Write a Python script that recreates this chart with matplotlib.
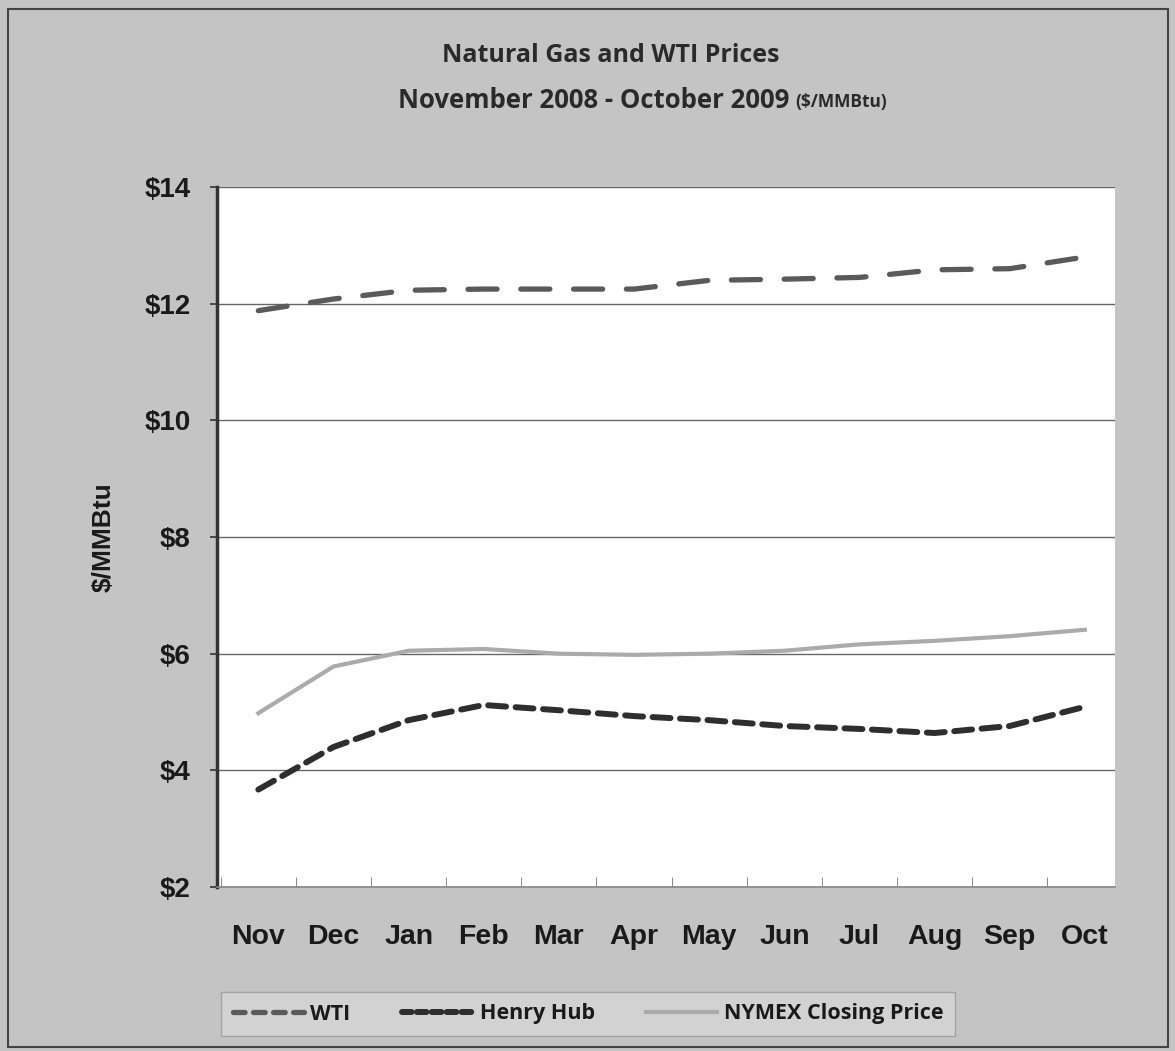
import matplotlib
matplotlib.use("Agg")
import matplotlib.pyplot as plt
from matplotlib.lines import Line2D
from matplotlib.patches import Rectangle

months = ["Nov", "Dec", "Jan", "Feb", "Mar", "Apr", "May", "Jun", "Jul", "Aug", "Sep", "Oct"]
wti = [11.88, 12.08, 12.23, 12.25, 12.25, 12.25, 12.40, 12.42, 12.45, 12.58, 12.60, 12.80]
henry_hub = [3.67, 4.40, 4.86, 5.12, 5.03, 4.93, 4.86, 4.76, 4.71, 4.64, 4.76, 5.09]
nymex = [4.98, 5.78, 6.05, 6.08, 6.00, 5.98, 6.00, 6.05, 6.16, 6.22, 6.30, 6.41]
yticks = [2, 4, 6, 8, 10, 12, 14]
ytick_labels = ["$2", "$4", "$6", "$8", "$10", "$12", "$14"]

W, H = 1175, 1051
fig = plt.figure(figsize=(W / 100, H / 100), dpi=100)
fig.patch.set_facecolor("#c4c4c4")

# outer frame
fig.add_artist(Rectangle((8 / W, 4 / H), (1168 - 8) / W, (1042 - 4) / H,
                         transform=fig.transFigure, fill=False,
                         edgecolor="#444444", linewidth=1.5))

ax = fig.add_axes([217 / W, 1 - 887 / H, (1115 - 217) / W, (887 - 187) / H])
ax.set_facecolor("white")

x = list(range(len(months)))
ax.plot(x, wti, color="#5a5a5a", linewidth=3.8, dashes=(5.5, 4.5),
        dash_capstyle="round", label="WTI", zorder=3)
ax.plot(x, henry_hub, color="#2e2e2e", linewidth=4.3, dashes=(3.0, 1.6),
        dash_capstyle="round", label="Henry Hub", zorder=3)
ax.plot(x, nymex, color="#ababab", linewidth=3.0, label="NYMEX Closing Price", zorder=3)

ax.set_ylim(2, 14)
ax.set_xlim(-0.55, 11.4)
ax.set_yticks(yticks)
ax.set_yticklabels(ytick_labels, fontfamily="Liberation Sans", fontweight="bold",
                   fontsize=20, color="#1a1a1a")
ax.yaxis.grid(True, color="#666666", linewidth=1.0)
ax.set_axisbelow(True)

ax.set_xticks(x)
ax.set_xticklabels(months, fontfamily="Liberation Sans", fontweight="bold",
                   fontsize=20.5, color="#1a1a1a")
ax.set_xticks([i + 0.5 for i in range(-1, 11)], minor=True)
ax.tick_params(axis="x", which="major", length=0, pad=27)
ax.tick_params(axis="x", which="minor", length=7, direction="in", color="#777777")
ax.tick_params(axis="y", length=5, width=1.2, color="#333333", direction="out", pad=14)

for s in ["top", "right"]:
    ax.spines[s].set_visible(False)
ax.spines["left"].set_color("#333333")
ax.spines["left"].set_linewidth(2.5)
ax.spines["bottom"].set_color("#888888")
ax.spines["bottom"].set_linewidth(1.2)

ax.set_ylabel("$/MMBtu", fontfamily="Liberation Sans", fontweight="bold",
              fontsize=19, color="#1a1a1a")
ax.yaxis.set_label_coords((116 - 217) / (1115 - 217), 0.5)

# titles
title_kw = dict(fontfamily="Open Sans", fontweight="bold", fontsize=18, color="#2a2a2a")
fig.text(611 / W, 1 - 55 / H, "Natural Gas and WTI Prices", ha="center", va="center", **title_kw)
t2 = fig.text(398 / W, 1 - 100 / H, "November 2008 - October 2009", ha="left", va="center",
              fontfamily="Open Sans", fontweight="bold", fontsize=18.5, color="#2a2a2a")
fig.canvas.draw()
bb = t2.get_window_extent(renderer=fig.canvas.get_renderer())
fig.text((bb.x1 + 6) / W, 1 - 102 / H, "($/MMBtu)", ha="left", va="center",
         fontfamily="Open Sans", fontweight="bold", fontsize=12.5, color="#2a2a2a")

# legend
handles = [
    Line2D([], [], color="#5a5a5a", linewidth=3.8, dashes=(2.2, 1.6), dash_capstyle="round"),
    Line2D([], [], color="#2e2e2e", linewidth=4.3, dashes=(1.6, 0.9), dash_capstyle="round"),
    Line2D([], [], color="#ababab", linewidth=3.0),
]
leg = fig.legend(handles, ["WTI", "Henry Hub", "NYMEX Closing Price"],
                 loc="center", bbox_to_anchor=(588 / W, 1 - 1014 / H), ncol=3,
                 frameon=True, fancybox=False, handlelength=3.3, handletextpad=0.3,
                 columnspacing=2.4, borderpad=0.55, borderaxespad=0,
                 prop={"family": "Open Sans", "weight": "bold", "size": 15.5})
leg.get_frame().set_facecolor("#d6d6d6")
leg.get_frame().set_edgecolor("#9a9a9a")
leg.get_frame().set_linewidth(1.0)
for txt in leg.get_texts():
    txt.set_color("#1a1a1a")

fig.savefig("out.png", dpi=100, facecolor=fig.get_facecolor())
